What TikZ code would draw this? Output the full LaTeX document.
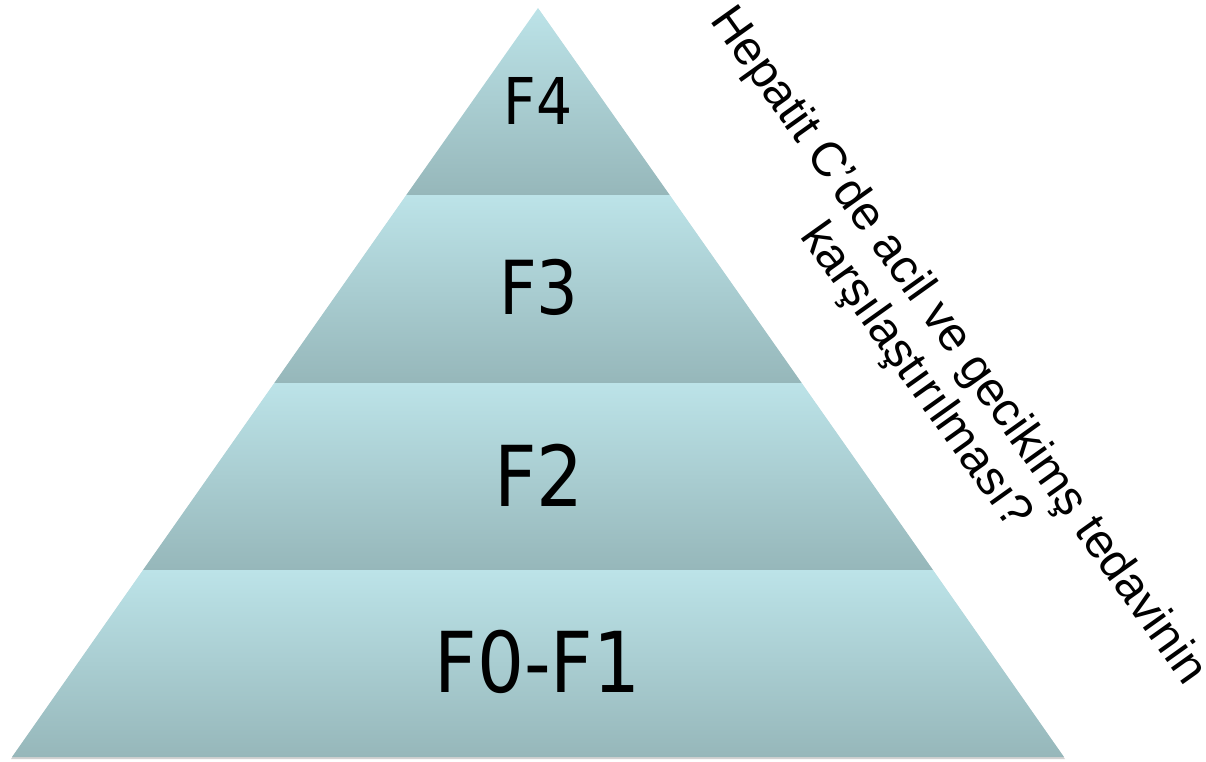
\documentclass[tikz,border=0pt]{standalone}
\usepackage{fontspec}
\newfontfamily\tah[FakeStretch=0.88]{DejaVu Sans}
\newfontfamily\arl{Liberation Sans}
\definecolor{bandtop}{HTML}{BCE3E8}
\definecolor{bandbot}{HTML}{96B7BA}
\begin{document}
\begin{tikzpicture}[x=1pt,y=-1pt,
  band/.style={top color=bandtop,bottom color=bandbot,draw=none},
  bandshadow/.style={fill=black,opacity=0.18,draw=none},
  lvl/.style={inner sep=0pt,font=\tah,text=black},
  note/.style={inner sep=0pt,anchor=base,rotate=-54.5,font=\arl\fontsize{48}{56}\selectfont,text=black}]
\useasboundingbox (0,0) rectangle (1206,761);
% apex (538,8), base y=757 from 12 to 1063
\coordinate (A) at (538,8);
\coordinate (L1) at (406.3,195); \coordinate (R1) at (669.7,195);
\coordinate (L2) at (274.3,383); \coordinate (R2) at (801.7,383);
\coordinate (L3) at (143.0,570); \coordinate (R3) at (933.0,570);
\coordinate (L4) at (12,757);    \coordinate (R4) at (1064,757);
% shadows
\fill[bandshadow] ([shift={(1,2)}]A) -- ([shift={(1,2)}]R1) -- ([shift={(-1,2)}]L1) -- cycle;
\fill[bandshadow] ([shift={(-1,2)}]L1) -- ([shift={(1,2)}]R1) -- ([shift={(1,2)}]R2) -- ([shift={(-1,2)}]L2) -- cycle;
\fill[bandshadow] ([shift={(-1,2)}]L2) -- ([shift={(1,2)}]R2) -- ([shift={(1,2)}]R3) -- ([shift={(-1,2)}]L3) -- cycle;
\fill[bandshadow] ([shift={(-1,2)}]L3) -- ([shift={(1,2)}]R3) -- ([shift={(1,2)}]R4) -- ([shift={(-1,2)}]L4) -- cycle;
% bands
\path[band] (A) -- (R1) -- (L1) -- cycle;
\path[band] (L1) -- (R1) -- (R2) -- (L2) -- cycle;
\path[band] (L2) -- (R2) -- (R3) -- (L3) -- cycle;
\path[band] (L3) -- (R3) -- (R4) -- (L4) -- cycle;
% labels
\node[lvl,font=\tah\fontsize{64.5}{70}\selectfont] (f4) at (538,101) {F4};
\node[lvl,font=\tah\fontsize{74.5}{80}\selectfont] (f3) at (539,287) {F3};
\node[lvl,font=\tah\fontsize{84}{90}\selectfont] (f2) at (539,475) {F2};
\node[lvl,font=\tah\fontsize{84}{90}\selectfont] (f01) at (537.5,662) {F0-F1};
% rotated note
\node[note] (n1) at (947.4,353.5) {Hepatit C’de acil ve gecikimş tedavinin};
\node[note] (n2) at (905.0,383.7) {karşılaştırılması?};
\end{tikzpicture}
\end{document}
